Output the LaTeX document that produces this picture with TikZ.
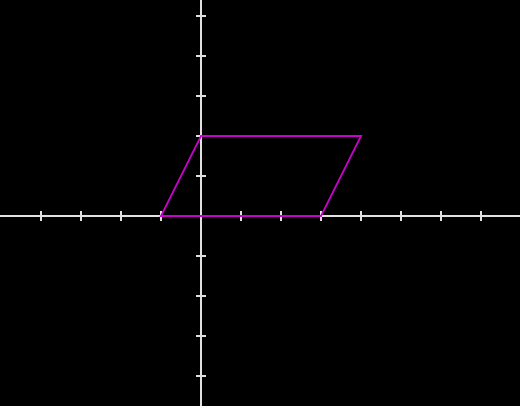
\documentclass[tikz,border=0pt]{standalone}
\begin{document}
\begin{tikzpicture}[x=1pt,y=-1pt,
  axis/.style={draw={rgb,255:red,225;green,225;blue,225},line width=1.8pt},
  tickmark/.style={draw={rgb,255:red,225;green,225;blue,225},line width=1.6pt},
  quad/.style={draw={rgb,255:red,205;green,0;blue,205},line width=1.6pt,line join=miter}]
\fill[black] (0,0) rectangle (520,406);
\useasboundingbox (0,0) rectangle (520,406);
\coordinate (O) at (201,216);
\draw[axis] (0,216) -- (520,216);
\draw[axis] (201,0) -- (201,406);
\foreach \x in {41,81,121,161,241,281,321,361,401,441,481}
  \draw[tickmark] (\x,211) -- (\x,221);
\foreach \y in {16,56,96,136,176,256,296,336,376}
  \draw[tickmark] (196,\y) -- (206,\y);
\coordinate (A) at (161,216);
\coordinate (B) at (201,136);
\coordinate (C) at (361,136);
\coordinate (D) at (321,216);
\draw[quad] (A) -- (B) -- (C) -- (D) -- cycle;
\end{tikzpicture}
\end{document}
